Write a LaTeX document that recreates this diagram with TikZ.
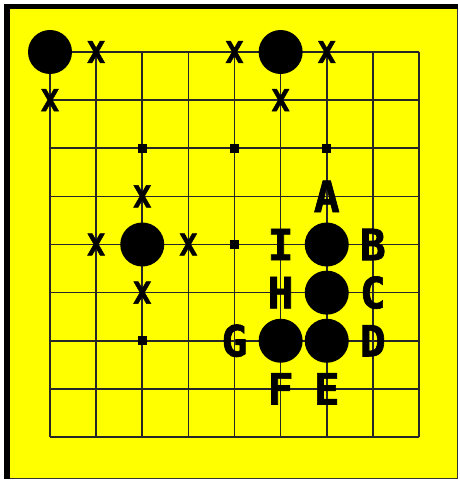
\documentclass[tikz,border=0pt]{standalone}
\usepackage{fontspec}
\newfontfamily\boardfont[BoldFeatures={FakeBold=1.5}]{DejaVu Sans Mono}
\usetikzlibrary{positioning}

\definecolor{boardyellow}{RGB}{255,255,0}

\begin{document}
\begin{tikzpicture}[
  x=1pt,y=-1pt,
  gridline/.style={line width=1.7pt,black!85},
  stone/.style={circle,fill=black,inner sep=0pt,minimum size=44pt},
  hoshi/.style={rectangle,fill=black,inner sep=0pt,minimum size=9pt},
  cross/.style={inner sep=0pt,font=\boardfont\bfseries\fontsize{30}{30}\selectfont},
  lbl/.style={inner sep=0pt,font=\boardfont\bfseries\fontsize{43}{43}\selectfont}
]
  % frame
  \fill[white] (0,0) rectangle (459,481);
  \useasboundingbox (0,0) rectangle (459,481);
  \draw[fill=boardyellow,draw=black!80,line width=1pt] (4.5,4.5) rectangle (457,478);
  \fill[black] (4,4) rectangle (9.5,478.5);
  \fill[black] (4,4) rectangle (457.5,9.5);

  \begin{scope}[shift={(50,52)},x=46.125pt,y=-48.125pt]
    % board lines
    \foreach \i in {0,...,8} {
      \draw[gridline] (\i,0) -- (\i,8);
      \draw[gridline] (0,\i) -- (8,\i);
    }
    % star points
    \node[hoshi] (h1) at (2,2) {};
    \node[hoshi] (h2) at (4,2) {};
    \node[hoshi] (h3) at (6,2) {};
    \node[hoshi] (h4) at (4,4) {};
    \node[hoshi] (h5) at (2,6) {};
    % stones
    \node[stone] (s00) at (0,0) {};
    \node[stone] (s50) at (5,0) {};
    \node[stone] (s24) at (2,4) {};
    \node[stone] (s64) at (6,4) {};
    \node[stone] (s65) at (6,5) {};
    \node[stone] (s56) at (5,6) {};
    \node[stone] (s66) at (6,6) {};
    % crosses
    \node[cross] (x10) at (1,0) {X};
    \node[cross] (x01) at (0,1) {X};
    \node[cross] (x40) at (4,0) {X};
    \node[cross] (x60) at (6,0) {X};
    \node[cross] (x51) at (5,1) {X};
    \node[cross] (x23) at (2,3) {X};
    \node[cross] (x14) at (1,4) {X};
    \node[cross] (x34) at (3,4) {X};
    \node[cross] (x25) at (2,5) {X};
    % letters
    \node[lbl] (A) at (6,3) {A};
    \node[lbl] (B) at (7,4) {B};
    \node[lbl] (C) at (7,5) {C};
    \node[lbl] (D) at (7,6) {D};
    \node[lbl] (E) at (6,7) {E};
    \node[lbl] (F) at (5,7) {F};
    \node[lbl] (G) at (4,6) {G};
    \node[lbl] (H) at (5,5) {H};
    \node[lbl] (I) at (5,4) {I};
  \end{scope}
\end{tikzpicture}
\end{document}
